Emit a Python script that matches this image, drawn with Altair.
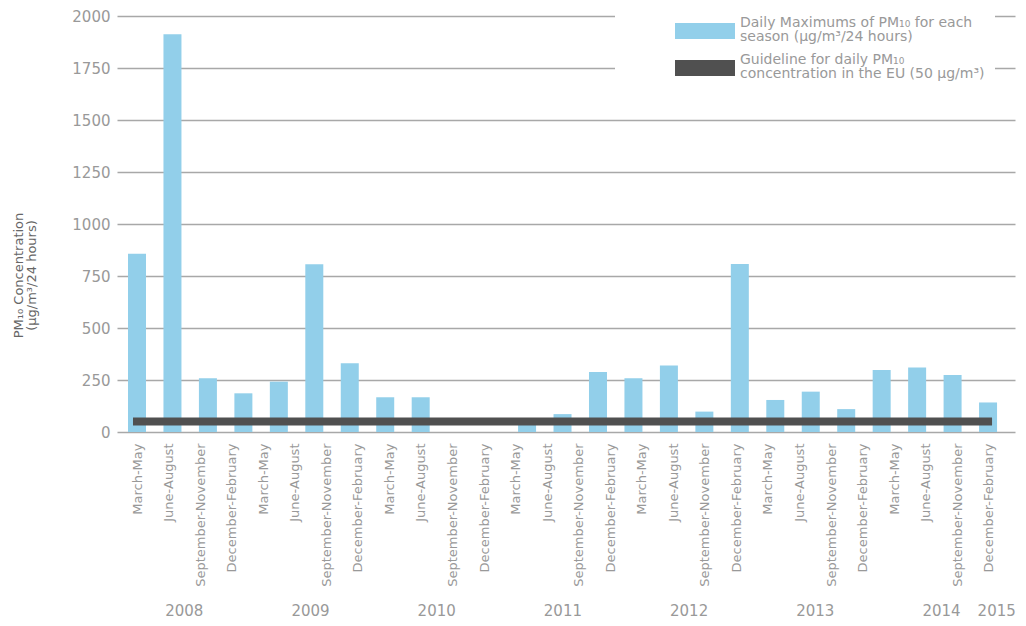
import json
import altair as alt
import pandas as pd

FONT = "DejaVu Sans"

# ---- data ----
season_names = ["March-May", "June-August", "September-November", "December-February"]
season_labels = season_names * 7                      # 28 axis labels
year_labels = ["2008", "2009", "2010", "2011", "2012", "2013", "2014", "2015"]
year_centres = [1.5, 5.5, 9.5, 13.5, 17.5, 21.5, 25.5, 27.25]   # in label-slot units

bar_values = [857, 1912, 258, 186, 242, 807, 331, 167, 167, None, None, 40, 86,
              289, 258, 320, 98, 808, 154, 194, 110, 298, 310, 274, 142]
guideline_value = 50

series_names = [
    "Daily Maximums of PM₁₀ for each season (µg/m³/24 hours)",
    "Guideline for daily PM₁₀ concentration in the EU (50 µg/m³)",
]
legend_lines = [
    ["Daily Maximums of PM₁₀ for each", "season (µg/m³/24 hours)"],
    ["Guideline for daily PM₁₀", "concentration in the EU (50 µg/m³)"],
]
y_title = ["PM₁₀ Concentration", "(µg/m³/24 hours)"]

BLUE = "#92cfea"
DARK = "#505050"
LABEL = "#999999"

bars_df = pd.DataFrame({"slot": list(range(len(bar_values))), "value": bar_values}).dropna()
bars_df["series"] = series_names[0]

guide_df = pd.DataFrame({
    "start": [int(bars_df["slot"].min())],
    "end": [int(bars_df["slot"].max())],
    "value": [guideline_value],
})

years_df = pd.DataFrame({"year": year_labels, "pos": year_centres})

bar_x_scale = alt.Scale(domain=[-0.564, 24.76], nice=False, zero=False, padding=0)
lab_x_scale = alt.Scale(domain=[-0.634, 27.83], nice=False, zero=False, padding=0)
y_scale = alt.Scale(domain=[0, 2000], nice=False)

legend_expr = (
    f"{json.dumps(legend_lines, ensure_ascii=False)}"
    f"[indexof({json.dumps(series_names, ensure_ascii=False)}, datum.label)]"
)

bars = alt.Chart(bars_df).mark_bar(size=18).encode(
    x=alt.X("slot:Q", scale=bar_x_scale, axis=None),
    y=alt.Y(
        "value:Q",
        scale=y_scale,
        axis=alt.Axis(
            values=list(range(0, 2001, 250)), format="d",
            grid=True, gridColor="#a8a8a8", gridWidth=1.5,
            domain=False, ticks=False,
            labelPadding=7, labelFontSize=15, labelColor=LABEL, labelFont=FONT,
            title=y_title, titleX=-99, titleY=259, titleAngle=-90,
            titleBaseline="middle", titleAlign="center",
            titleFontSize=13, titleLineHeight=13, titleColor="#666666",
            titleFontWeight="normal", titleFont=FONT,
        ),
    ),
    color=alt.Color(
        "series:N",
        scale=alt.Scale(domain=series_names, range=[BLUE, DARK]),
        legend=alt.Legend(
            title=None, orient="none", legendX=498, legendY=-11, direction="vertical",
            fillColor="white", padding=10,
            symbolType="M-3.75,0L3.75,0L3.75,2L-3.75,2Z", symbolSize=256,
            symbolStrokeWidth=0, symbolOffset=72, labelOffset=27, rowPadding=8,
            labelExpr=legend_expr, labelFont=FONT, labelFontSize=14,
            labelColor=LABEL, labelLimit=400,
        ),
    ),
)

guide = alt.Chart(guide_df).mark_rule(color=DARK, strokeWidth=8, strokeCap="square").encode(
    x=alt.X("start:Q", scale=bar_x_scale, axis=None),
    x2="end:Q",
    y=alt.Y("value:Q", scale=y_scale),
)

label_expr = f"{json.dumps(season_labels)}[datum.value]"

years = alt.Chart(years_df).mark_text(
    fontSize=15, color=LABEL, font=FONT, baseline="alphabetic", align="center"
).encode(
    x=alt.X(
        "pos:Q",
        scale=lab_x_scale,
        axis=alt.Axis(
            orient="bottom", values=list(range(len(season_labels))),
            labelExpr=label_expr, labelAngle=-90, labelOverlap=False, labelFlush=False,
            labelFontSize=13, labelColor=LABEL, labelFont=FONT, labelPadding=11,
            grid=False, ticks=False, domain=False, title=None, labelBound=False,
        ),
    ),
    y=alt.value(600),
    text="year:N",
)

chart = alt.layer(bars, guide, years).resolve_scale(x="independent").properties(
    width=898,
    height=416,
    autosize=alt.AutoSizeParams(type="none"),
    padding={"left": 109, "top": 8, "right": 3, "bottom": 190},
).configure(
    view=alt.ViewConfig(strokeWidth=0),
    style={"guide-label": {"lineHeight": 14}},
)

chart.save("out.html", embed_options={"renderer": "svg", "actions": False})
